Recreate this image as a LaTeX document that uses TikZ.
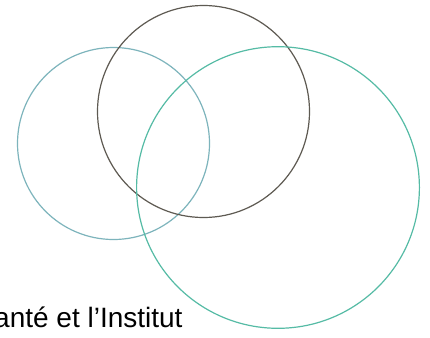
\documentclass[tikz,border=0pt]{standalone}
\usepackage{fontspec}
\setmainfont{Liberation Sans}
\definecolor{leftc}{HTML}{7DB4BC}
\definecolor{darkc}{HTML}{5E5A52}
\definecolor{rightc}{HTML}{55BBA5}
\begin{document}
\begin{tikzpicture}[x=1pt,y=-1pt,
  ring/.style={line width=1.2pt}]
\useasboundingbox (0,0) rectangle (430,337);
\fill[white] (0,0) rectangle (430,337);
\draw[ring,leftc] (113.5,143.5) circle[radius=96];
\draw[ring,darkc] (203.5,111.5) circle[radius=106];
\draw[ring,rightc] (278,187.5) circle[x radius=141.4, y radius=140.8];
\node[anchor=base west,inner sep=0pt,font=\fontsize{28}{30}\selectfont] (t) at (-6,327) {anté et l’Institut};
\end{tikzpicture}
\end{document}
